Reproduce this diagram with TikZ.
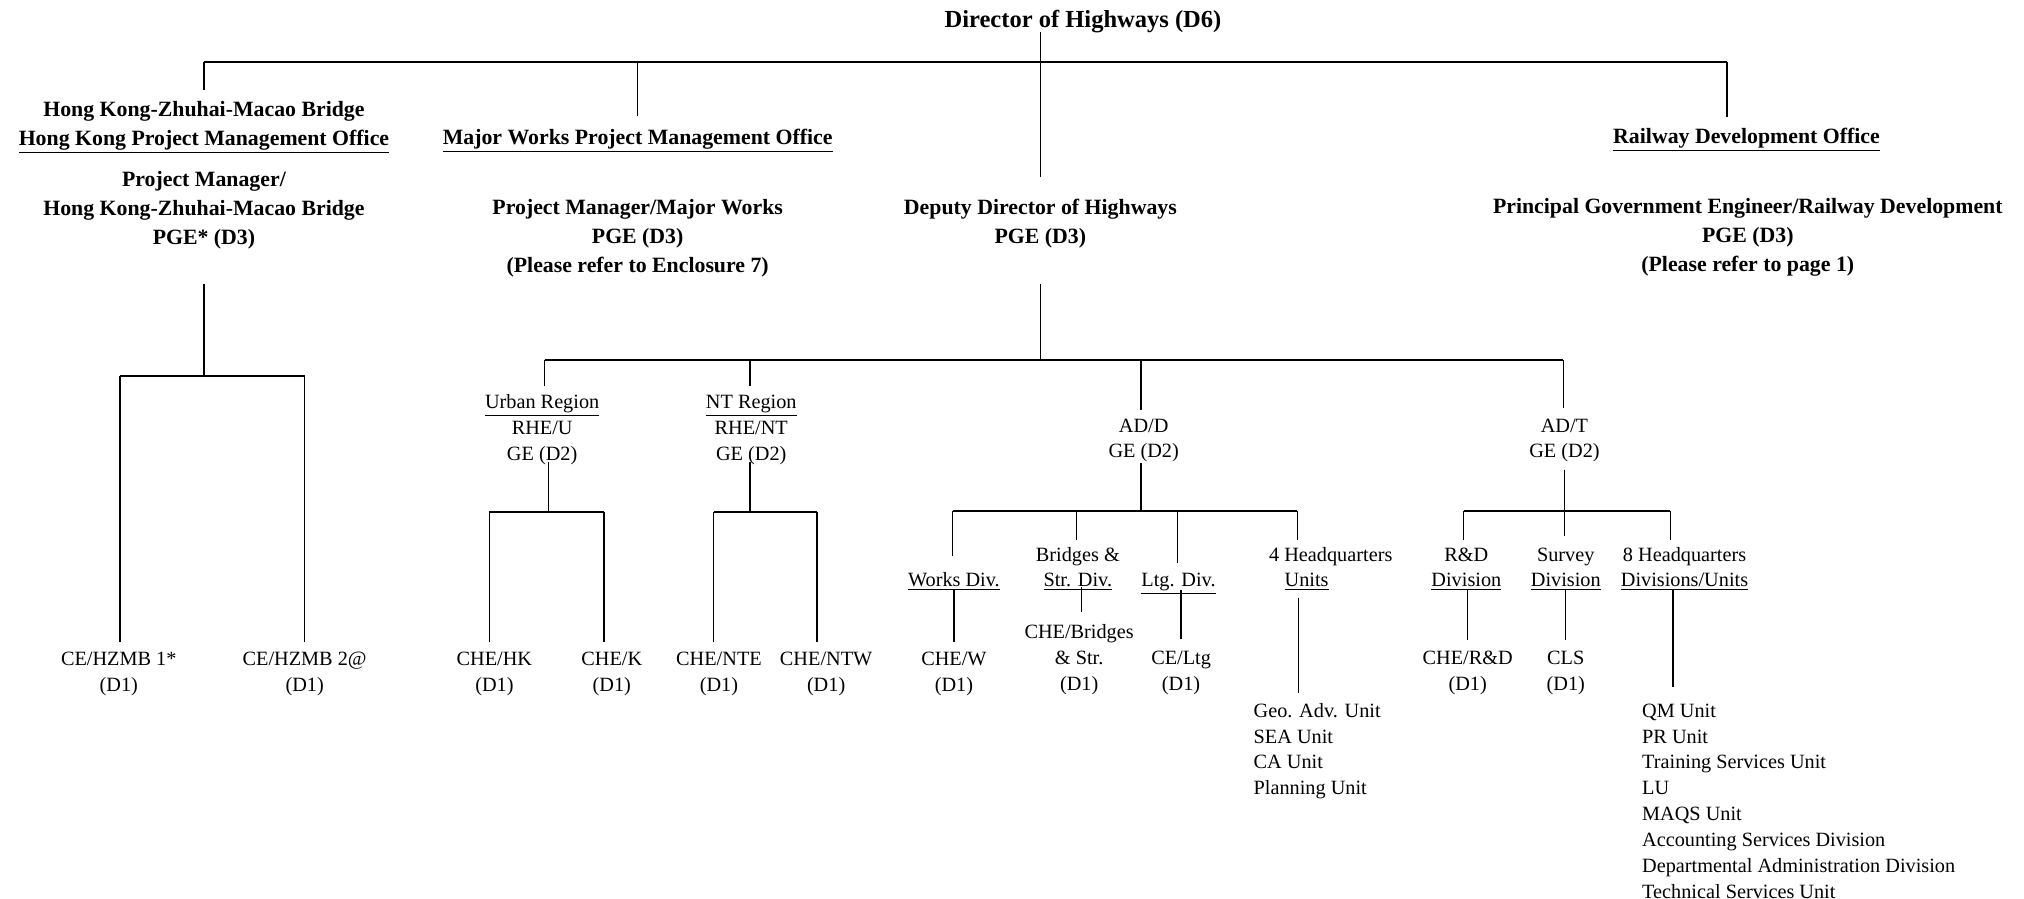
\documentclass[tikz,border=0pt]{standalone}
\usepackage{fontspec}
\setmainfont{Liberation Serif}
\begin{document}
\begin{tikzpicture}[x=1pt,y=-1pt,
  reg/.style={font=\fontsize{15.7}{20}\selectfont, align=center, inner sep=0pt, anchor=north},
  regl/.style={font=\fontsize{15.7}{20}\selectfont, align=left, inner sep=0pt, anchor=north west},
  bld/.style={font=\fontsize{16.9}{22.5}\selectfont\bfseries, align=center, inner sep=0pt, anchor=north},
  ln/.style={line width=1pt},
  barline/.style={line width=1.6pt},
]
\useasboundingbox (0,0) rectangle (1568,696);

% ---------- nodes ----------
\node[font=\fontsize{19}{23}\selectfont\bfseries, inner sep=0pt, anchor=base] (dh) at (839,21.6) {Director of Highways (D6)};

\node[bld] (hzo) at (158,74.2) {\strut Hong Kong-Zhuhai-Macao Bridge\\\underline{Hong Kong Project Management Office}};
\node[bld] (hzpm) at (158,128.2) {\strut Project Manager/\\Hong Kong-Zhuhai-Macao Bridge\\PGE* (D3)};
\node[bld] (mwo) at (494,96.2) {\strut\underline{Major Works Project Management Office}};
\node[bld] (mwpm) at (494,150.2) {\strut Project Manager/Major Works\\PGE (D3)\\(Please refer to Enclosure 7)};
\node[bld] (dd) at (806,150.2) {\strut Deputy Director of Highways\\PGE (D3)};
\node[bld] (rdo) at (1353,95.2) {\strut\underline{Railway Development Office}};
\node[bld] (rdpge) at (1354,149.2) {\strut Principal Government Engineer/Railway Development\\PGE (D3)\\(Please refer to page 1)};

\node[reg] (ce1) at (92,501.5) {\strut CE/HZMB 1*\\(D1)};
\node[reg] (ce2) at (236,501.5) {\strut CE/HZMB 2@\\(D1)};

\node[reg] (urb) at (420,302.5) {\strut\underline{Urban Region}\\RHE/U\\GE (D2)};
\node[reg] (nt) at (582,302.5) {\strut\underline{NT Region}\\RHE/NT\\GE (D2)};
\node[reg] (add) at (886,320.5) {\strut AD/D\\GE (D2)};
\node[reg] (adt) at (1212,320.5) {\strut AD/T\\GE (D2)};

\node[reg] (chehk) at (383,501.5) {\strut CHE/HK\\(D1)};
\node[reg] (chek) at (474,501.5) {\strut CHE/K\\(D1)};
\node[reg] (chente) at (557,501.5) {\strut CHE/NTE\\(D1)};
\node[reg] (chentw) at (640,501.5) {\strut CHE/NTW\\(D1)};

\node[reg] (works) at (739,440.5) {\strut\underline{Works Div.}};
\node[reg] (chew) at (739,501.5) {\strut CHE/W\\(D1)};
\node[reg] (bsd) at (835,420.5) {\strut Bridges \&\\\underline{Str. Div.}};
\node[reg] (cheb) at (836,480.5) {\strut CHE/Bridges\\\& Str.\\(D1)};
\node[reg] (ltg) at (913,440.5) {\strut\underline{Ltg. Div.}};
\node[reg] (celtg) at (915,500.5) {\strut CE/Ltg\\(D1)};
\node[regl] (hq4) at (983,420.5) {\strut 4 Headquarters\\\hspace*{12pt}\underline{Units}};
\node[regl] (hq4list) at (971,541.5) {\strut Geo. Adv. Unit\\SEA Unit\\CA Unit\\Planning Unit};

\node[reg] (rdd) at (1136,420.5) {\strut R\&D\\\underline{Division}};
\node[reg] (cherd) at (1137,500.5) {\strut CHE/R\&D\\(D1)};
\node[reg] (sur) at (1213,420.5) {\strut Survey\\\underline{Division}};
\node[reg] (cls) at (1213,500.5) {\strut CLS\\(D1)};
\node[reg] (hq8) at (1305,420.5) {\strut 8 Headquarters\\\underline{Divisions/Units}};
\node[regl] (hq8list) at (1272,541.5) {\strut QM Unit\\PR Unit\\Training Services Unit\\LU\\MAQS Unit\\Accounting Services Division\\Departmental Administration Division\\Technical Services Unit};

% ---------- junction coordinates ----------
\coordinate (dh-o) at (806,25);
\coordinate (dd-i) at (806,137);
\coordinate (b0l) at (158,48);
\coordinate (b0r) at (1338,48);
\coordinate (hzo-i) at (158,70);
\coordinate (mwo-i) at (494,90);
\coordinate (rdo-i) at (1338,91);

\coordinate (hzpm-o) at (158,220);
\coordinate (b1) at (158,291);
\coordinate (b1l) at (93,291);
\coordinate (b1r) at (236,291);
\coordinate (ce1-i) at (93,497);
\coordinate (ce2-i) at (236,497);

\coordinate (dd-o) at (806,220);
\coordinate (b2) at (806,279);
\coordinate (b2l) at (422,279);
\coordinate (b2r) at (1211,279);
\coordinate (urb-i) at (422,299);
\coordinate (nt-i) at (581,299);
\coordinate (add-i) at (884,318);
\coordinate (adt-i) at (1211,316);

\coordinate (urb-o) at (425,358);
\coordinate (b3) at (425,397);
\coordinate (b3l) at (379,397);
\coordinate (b3r) at (468,397);
\coordinate (chehk-i) at (379,497);
\coordinate (chek-i) at (468,497);

\coordinate (nt-o) at (581,358);
\coordinate (b4) at (581,397);
\coordinate (b4l) at (553,397);
\coordinate (b4r) at (633,397);
\coordinate (chente-i) at (553,497);
\coordinate (chentw-i) at (633,497);

\coordinate (add-o) at (884,359);
\coordinate (b5) at (884,396);
\coordinate (b5l) at (738,396);
\coordinate (b5r) at (1005,396);
\coordinate (works-i) at (738,431);
\coordinate (b5b) at (834,396);
\coordinate (bsd-i) at (834,418);
\coordinate (b5c) at (912,396);
\coordinate (ltg-i) at (912,436);
\coordinate (hq4-i) at (1005,418);

\coordinate (works-o) at (739,457);
\coordinate (chew-i) at (739,497);
\coordinate (bsd-o) at (838,455);
\coordinate (cheb-i) at (838,474);
\coordinate (ltg-o) at (915,457);
\coordinate (celtg-i) at (915,495);
\coordinate (hq4-o) at (1006,463);
\coordinate (hq4list-i) at (1006,537);

\coordinate (adt-o) at (1212,364);
\coordinate (b6l) at (1134,396);
\coordinate (b6r) at (1294,396);
\coordinate (sur-i) at (1212,415);
\coordinate (rdd-i) at (1134,418);
\coordinate (hq8-i) at (1294,418);
\coordinate (rdd-o) at (1137,457);
\coordinate (cherd-i) at (1137,496);
\coordinate (sur-o) at (1213,457);
\coordinate (cls-i) at (1213,496);
\coordinate (hq8-o) at (1296,457);
\coordinate (hq8list-i) at (1296,532);

% ---------- connectors ----------
\draw[barline] (b0l) -- (b0r);
\draw[ln] (dh-o) -- (dd-i);
\draw[ln] (b0l) -- (hzo-i);
\draw[ln] (mwo-i |- b0l) -- (mwo-i);
\draw[ln] (b0r) -- (rdo-i);

\draw[ln] (hzpm-o) -- (b1);
\draw[barline] (b1l) -- (b1r);
\draw[ln] (b1l) -- (ce1-i);
\draw[ln] (b1r) -- (ce2-i);

\draw[ln] (dd-o) -- (b2);
\draw[barline] (b2l) -- (b2r);
\draw[ln] (b2l) -- (urb-i);
\draw[ln] (nt-i |- b2l) -- (nt-i);
\draw[ln] (add-i |- b2l) -- (add-i);
\draw[ln] (b2r) -- (adt-i);

\draw[ln] (urb-o) -- (b3);
\draw[barline] (b3l) -- (b3r);
\draw[ln] (b3l) -- (chehk-i);
\draw[ln] (b3r) -- (chek-i);

\draw[ln] (nt-o) -- (b4);
\draw[barline] (b4l) -- (b4r);
\draw[ln] (b4l) -- (chente-i);
\draw[ln] (b4r) -- (chentw-i);

\draw[ln] (add-o) -- (b5);
\draw[barline] (b5l) -- (b5r);
\draw[ln] (b5l) -- (works-i);
\draw[ln] (b5b) -- (bsd-i);
\draw[ln] (b5c) -- (ltg-i);
\draw[ln] (b5r) -- (hq4-i);

\draw[ln] (works-o) -- (chew-i);
\draw[ln] (bsd-o) -- (cheb-i);
\draw[ln] (ltg-o) -- (celtg-i);
\draw[ln] (hq4-o) -- (hq4list-i);

\draw[ln] (adt-o) -- (sur-i);
\draw[barline] (b6l) -- (b6r);
\draw[ln] (b6l) -- (rdd-i);
\draw[ln] (b6r) -- (hq8-i);
\draw[ln] (rdd-o) -- (cherd-i);
\draw[ln] (sur-o) -- (cls-i);
\draw[ln] (hq8-o) -- (hq8list-i);
\end{tikzpicture}
\end{document}
